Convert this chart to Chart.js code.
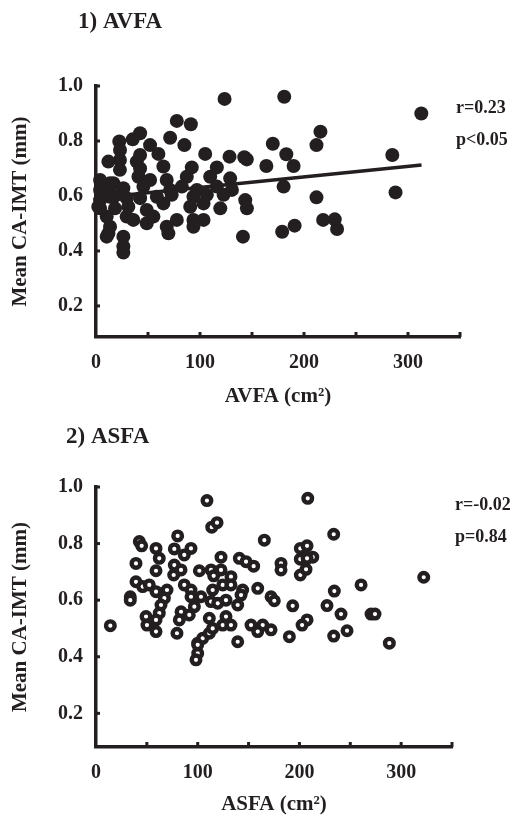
<!DOCTYPE html>
<html lang="en">
<head>
<meta charset="UTF-8" />
<title>Mean CA-IMT vs AVFA / ASFA</title>
<script src="https://cdn.jsdelivr.net/npm/chart.js"></script>
<style>
  body { margin: 0; background: #fff; }
  canvas { position: absolute; left: 0; }
  #avfaChart { top: 0; }
  #asfaChart { top: 409px; }
</style>
</head>
<body>
<canvas id="avfaChart" width="520" height="409"></canvas>
<canvas id="asfaChart" width="520" height="408"></canvas>

<script>
// ---- data ----
const yTicks = [0.2, 0.4, 0.6, 0.8, 1.0];
const xTickMarks = [0, 50, 100, 150, 200, 250, 300, 350];
const xTickLabels = [0, 100, 200, 300];

// 1) visceral fat area
const avfaX = [123.6, 181, 77.7, 91.2, 42.4, 35.3, 22.4, 71.3, 52, 85, 170, 23.1, 42.4, 60, 105, 128.4, 142.6, 183,
  39.2, 23, 64.8, 92.1, 116.2, 145, 163.8, 42.4, 23, 3.9, 40.8, 52, 68, 87.3, 109.8, 129, 180.4, 16.7, 3.9, 26.3,
  45.6, 71.3, 82.5, 97, 116.2, 130.7, 3.9, 13.5, 29.5, 42.4, 58.5, 72.8, 93.7, 106.6, 122.7, 3.9, 18.3, 31.1, 48.8,
  64.8, 90.6, 103.4, 119.5, 143.5, 145.1, 10.3, 29.5, 35.9, 48.8, 55.2, 77.7, 93.7, 103.4, 13.5, 10.3, 26.3, 26.3,
  26.3, 68, 69.6, 93.7, 141.3, 179, 312.8, 215.8, 212, 284.9, 190, 212, 288, 218.4, 229.6, 231.8, 191, 2.2, 11.9,
  11.9, 13.5, 8, 18];
const avfaY = [0.953, 0.961, 0.873, 0.861, 0.828, 0.806, 0.798, 0.812, 0.785, 0.785, 0.79, 0.767, 0.749, 0.753, 0.753,
  0.743, 0.741, 0.752, 0.725, 0.731, 0.707, 0.704, 0.704, 0.733, 0.709, 0.70, 0.695, 0.658, 0.67, 0.658, 0.658, 0.67,
  0.67, 0.664, 0.634, 0.646, 0.622, 0.628, 0.634, 0.622, 0.634, 0.622, 0.634, 0.622, 0.585, 0.597, 0.592, 0.592,
  0.597, 0.604, 0.597, 0.604, 0.604, 0.555, 0.555, 0.561, 0.549, 0.573, 0.561, 0.573, 0.555, 0.585, 0.555, 0.525,
  0.525, 0.513, 0.501, 0.525, 0.513, 0.513, 0.513, 0.488, 0.452, 0.452, 0.416, 0.394, 0.488, 0.464, 0.488, 0.452,
  0.47, 0.90, 0.834, 0.785, 0.749, 0.709, 0.595, 0.613, 0.513, 0.515, 0.48, 0.492, 0.561, 0.464, 0.725, 0.646, 0.62,
  0.60];
// fitted line r=0.23
const avfaFitX = [0, 313];
const avfaFitY = [0.593, 0.713];

// 2) subcutaneous fat area
const asfaX = [109.1, 113.8, 119, 42.6, 44.9, 59, 80.3, 77, 86.8, 93.4, 62.2, 165.5, 39.3, 59, 77, 76.4, 83.6, 101.6,
  113.1, 115.7, 122.9, 122.9, 140.9, 147.5, 155, 181.9, 181.9, 132.7, 39.3, 45.9, 52.4, 59, 69.8, 86.8, 93.4, 103.2,
  114.7, 124.6, 132.7, 144.2, 142.6, 159, 172.1, 33.7, 33.7, 67.2, 63.9, 93.4, 113.1, 119.7, 127.8, 139.3,
  62.2, 49.2, 59, 83.6, 81.9, 91.7, 96.7, 111.4, 127.8, 124.6, 132.7, 152.4, 163.9, 172.1, 159, 50.1, 59, 14.1, 79.6,
  139.3, 100, 104.9, 111.4, 114.7, 100, 98.3, 288.4, 208.2, 233.7, 200.9, 207.5, 213.1, 200.9, 207.5, 200.9,
  206.5, 322.2, 260.6, 234.3, 175.3, 193.4, 227.1, 240.9, 270.4, 274.3, 190.1, 207.5, 202.6, 233.7, 246.8, 100];
const asfaY = [0.952, 0.858, 0.874, 0.807, 0.792, 0.783, 0.827, 0.781, 0.76, 0.783, 0.748, 0.812, 0.73, 0.704, 0.724,
  0.689, 0.707, 0.704, 0.707, 0.686, 0.752, 0.707, 0.748, 0.736, 0.72, 0.73, 0.707, 0.683, 0.665, 0.648, 0.654, 0.63,
  0.636, 0.654, 0.636, 0.612, 0.636, 0.654, 0.654, 0.636, 0.618, 0.642, 0.612, 0.612, 0.60, 0.607, 0.583,
  0.612, 0.595, 0.589, 0.60, 0.583, 0.554, 0.542, 0.53, 0.559, 0.53, 0.548, 0.577, 0.536, 0.542, 0.512, 0.512, 0.512,
  0.512, 0.495, 0.489, 0.512, 0.489, 0.51, 0.483, 0.453, 0.448, 0.465, 0.483, 0.50, 0.412, 0.389, 0.448, 0.96,
  0.833, 0.783, 0.792, 0.752, 0.745, 0.748, 0.689, 0.709, 0.681, 0.654, 0.632, 0.598, 0.58, 0.581, 0.551, 0.551,
  0.551, 0.471, 0.53, 0.512, 0.473, 0.492, 0.442];

// ---- drawing ----
const INK = '#231f20';
const SERIF = '"Liberation Serif", "Times New Roman", serif';

const toPoints = (xs, ys) => xs.map((x, i) => ({ x: x, y: ys[i] }));

// short tick marks drawn on the inside of both axes
const innerTicks = {
  id: 'innerTicks',
  afterDraw(chart) {
    const { ctx, chartArea, scales: { x, y } } = chart;
    ctx.save();
    ctx.strokeStyle = INK;
    ctx.lineWidth = 3;
    x.ticks.forEach(t => {
      if (t.value === 0) return;
      const px = x.getPixelForValue(t.value);
      ctx.beginPath();
      ctx.moveTo(px, chartArea.bottom);
      ctx.lineTo(px, chartArea.bottom - 5);
      ctx.stroke();
    });
    y.ticks.forEach(t => {
      const py = y.getPixelForValue(t.value);
      ctx.beginPath();
      ctx.moveTo(chartArea.left, py);
      ctx.lineTo(chartArea.left + 4, py);
      ctx.stroke();
    });
    ctx.restore();
  }
};

// panel heading and r / p values
const panelText = {
  id: 'panelText',
  afterDraw(chart, args, opts) {
    const ctx = chart.ctx;
    ctx.save();
    ctx.fillStyle = INK;
    ctx.textBaseline = 'middle';
    ctx.textAlign = 'left';
    ctx.font = 'bold 23px ' + SERIF;
    ctx.fillText(opts.heading, opts.headingX, opts.headingY);
    ctx.font = 'bold 18px ' + SERIF;
    opts.stats.forEach((s, i) => ctx.fillText(s, opts.statsX, opts.statsY + i * 32));
    ctx.restore();
  }
};

function makeChart(id, cfg) {
  const datasets = [{
    data: toPoints(cfg.xs, cfg.ys),
    pointRadius: cfg.radius,
    pointBorderWidth: cfg.borderWidth,
    pointBackgroundColor: cfg.fill,
    pointBorderColor: INK,
    pointHoverRadius: cfg.radius,
    clip: false
  }];
  if (cfg.fitX) {
    datasets.push({
      type: 'line',
      data: toPoints(cfg.fitX, cfg.fitY),
      borderColor: INK,
      borderWidth: 3.5,
      pointRadius: 0,
      fill: false,
      clip: false
    });
  }

  return new Chart(document.getElementById(id), {
    type: 'scatter',
    data: { datasets: datasets },
    plugins: [innerTicks, panelText],
    options: {
      responsive: false,
      animation: false,
      layout: { padding: { top: cfg.top, right: cfg.right, left: 0, bottom: 0 } },
      plugins: {
        legend: { display: false },
        tooltip: { enabled: false },
        panelText: cfg.text
      },
      scales: {
        x: {
          type: 'linear',
          min: 0,
          max: 350,
          afterBuildTicks: s => { s.ticks = xTickMarks.map(v => ({ value: v })); },
          afterFit: s => { s.height = cfg.xHeight; },
          grid: { drawOnChartArea: false, drawTicks: false },
          border: { color: INK, width: 3.5 },
          ticks: {
            color: INK,
            padding: 14,
            autoSkip: false,
            maxRotation: 0,
            font: { family: SERIF, size: 20, weight: 'bold' },
            callback: v => (xTickLabels.includes(v) ? String(v) : '')
          },
          title: {
            display: true,
            text: cfg.xTitle,
            color: INK,
            padding: { top: 0, bottom: 0 },
            font: { family: SERIF, size: 21, weight: 'bold', lineHeight: 1.2 }
          }
        },
        y: {
          type: 'linear',
          min: cfg.yMin,
          max: 1.0,
          afterBuildTicks: s => { s.ticks = yTicks.map(v => ({ value: v })); },
          afterFit: s => { s.width = 96; },
          grid: { drawOnChartArea: false, drawTicks: false },
          border: { color: INK, width: 3.5 },
          ticks: {
            color: INK,
            padding: 13,
            font: { family: SERIF, size: 20, weight: 'bold' },
            callback: v => v.toFixed(1)
          },
          title: {
            display: true,
            text: 'Mean CA-IMT (mm)',
            color: INK,
            padding: { top: 8, bottom: 0 },
            font: { family: SERIF, size: 21, weight: 'bold', lineHeight: 1.2 }
          }
        }
      }
    }
  });
}

makeChart('avfaChart', {
  xs: avfaX, ys: avfaY, fitX: avfaFitX, fitY: avfaFitY,
  radius: 7, borderWidth: 0, fill: INK,
  top: 86, right: 60, xHeight: 72, yMin: 0.087,
  xTitle: 'AVFA (cm²)',
  text: { heading: '1) AVFA', headingX: 78, headingY: 22, stats: ['r=0.23', 'p<0.05'], statsX: 456, statsY: 108 }
});

makeChart('asfaChart', {
  xs: asfaX, ys: asfaY,
  radius: 4.3, borderWidth: 4.4, fill: '#fff',
  top: 78, right: 68, xHeight: 70, yMin: 0.081,
  xTitle: 'ASFA (cm²)',
  text: { heading: '2) ASFA', headingX: 66, headingY: 28, stats: ['r=-0.02', 'p=0.84'], statsX: 455, statsY: 96 }
});
</script>
</body>
</html>
